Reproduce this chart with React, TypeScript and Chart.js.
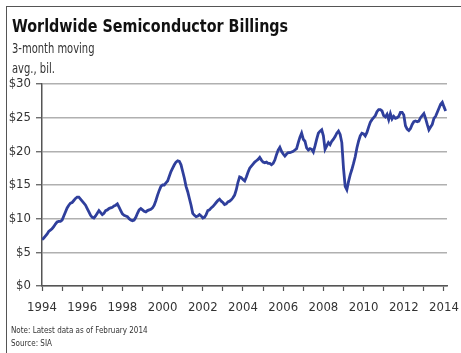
import React, { useEffect, useRef } from "react";
import { Chart, registerables } from "chart.js";

Chart.register(...registerables);

const TITLE = "Worldwide Semiconductor Billings";
const SUBTITLE_1 = "3-month moving";
const SUBTITLE_2 = "avg., bil.";
const NOTE = "Note: Latest data as of February 2014";
const SOURCE = "Source: SIA";

const yearTicks = [1994, 1995, 1996, 1997, 1998, 1999, 2000, 2001, 2002, 2003, 2004, 2005, 2006, 2007, 2008, 2009, 2010, 2011, 2012, 2013, 2014];
const yTickValues = [0, 5, 10, 15, 20, 25, 30];

// Monthly 3-month moving average, $ billions, Jan..Dec
const y1994 = [6.9, 7.1, 7.4, 7.7, 8.1, 8.3, 8.5, 8.8, 9.2, 9.5, 9.6, 9.6];
const y1995 = [9.8, 10.4, 11.0, 11.6, 12.0, 12.3, 12.4, 12.7, 13.0, 13.2, 13.2, 12.9];
const y1996 = [12.6, 12.3, 12.0, 11.5, 11.0, 10.5, 10.2, 10.1, 10.4, 10.8, 11.2, 10.9];
const y1997 = [10.6, 10.8, 11.2, 11.3, 11.5, 11.6, 11.7, 11.9, 12.0, 12.2, 11.7, 11.2];
const y1998 = [10.7, 10.5, 10.4, 10.3, 10.0, 9.8, 9.7, 9.8, 10.2, 10.8, 11.3, 11.5];
const y1999 = [11.3, 11.1, 11.0, 11.2, 11.3, 11.4, 11.6, 12.0, 12.7, 13.5, 14.2, 14.8];
const y2000 = [15.0, 15.0, 15.3, 15.6, 16.3, 17.0, 17.5, 18.0, 18.4, 18.6, 18.5, 18.0];
const y2001 = [17.0, 16.0, 14.8, 14.0, 13.0, 12.0, 10.8, 10.5, 10.3, 10.4, 10.6, 10.4];
const y2002 = [10.1, 10.2, 10.6, 11.2, 11.3, 11.6, 11.8, 12.1, 12.4, 12.7, 12.9, 12.6];
const y2003 = [12.4, 12.1, 12.2, 12.5, 12.6, 12.8, 13.1, 13.5, 14.3, 15.4, 16.2, 16.1];
const y2004 = [15.8, 15.6, 16.2, 16.9, 17.5, 17.8, 18.1, 18.4, 18.6, 18.8, 19.1, 18.7];
const y2005 = [18.4, 18.3, 18.4, 18.2, 18.2, 18.0, 18.2, 18.7, 19.5, 20.2, 20.6, 20.0];
const y2006 = [19.6, 19.3, 19.6, 19.8, 19.8, 19.9, 20.0, 20.2, 20.4, 21.3, 22.1, 22.7];
const y2007 = [21.8, 21.5, 20.5, 20.2, 20.4, 20.3, 19.9, 20.8, 21.8, 22.7, 23.0, 23.2];
const y2008 = [22.3, 20.3, 20.8, 21.3, 21.0, 21.5, 21.8, 22.2, 22.7, 23.0, 22.5, 21.3];
const y2009 = [17.5, 14.8, 14.3, 15.5, 16.5, 17.3, 18.2, 19.2, 20.5, 21.5, 22.3, 22.7];
const y2010 = [22.6, 22.3, 22.8, 23.6, 24.3, 24.7, 25.0, 25.3, 25.9, 26.2, 26.2, 26.0];
const y2011 = [25.3, 25.1, 25.5, 24.7, 25.6, 24.8, 25.2, 24.9, 25.0, 25.2, 25.8, 25.8];
const y2012 = [25.4, 23.8, 23.3, 23.1, 23.4, 24.0, 24.4, 24.5, 24.4, 24.5, 25.0, 25.3];
const y2013 = [25.6, 24.9, 24.0, 23.2, 23.6, 24.0, 24.9, 25.2, 25.8, 26.4, 27.0, 27.3];
const y2014 = [26.6, 26.0];

const seriesByYear: [number, number[]][] = [
  [1994, y1994], [1995, y1995], [1996, y1996], [1997, y1997], [1998, y1998],
  [1999, y1999], [2000, y2000], [2001, y2001], [2002, y2002], [2003, y2003],
  [2004, y2004], [2005, y2005], [2006, y2006], [2007, y2007], [2008, y2008],
  [2009, y2009], [2010, y2010], [2011, y2011], [2012, y2012], [2013, y2013],
  [2014, y2014],
];

const FONT = "'Liberation Sans Narrow', 'DejaVu Sans Condensed', 'Arial Narrow', sans-serif";

export default function App() {
  const ref = useRef<HTMLCanvasElement>(null);

  useEffect(() => {
    if (!ref.current) return;
    const points: { x: number; y: number }[] = [];
    seriesByYear.forEach(([yr, vals]) => {
      vals.forEach((v, m) => points.push({ x: yr + m / 12, y: v }));
    });

    const chart = new Chart(ref.current, {
      type: "line",
      data: {
        datasets: [
          {
            data: points,
            borderColor: "#2f3f9c",
            borderWidth: 2.8,
            pointRadius: 0,
            fill: false,
            tension: 0,
          },
        ],
      },
      options: {
        animation: false,
        responsive: false,
        maintainAspectRatio: false,
        layout: { padding: { left: 0, right: 14, top: 84, bottom: 0 } },
        plugins: { legend: { display: false }, title: { display: false }, tooltip: { enabled: false } },
        scales: {
          x: {
            type: "linear",
            min: 1994,
            max: 2014.15,
            afterBuildTicks: (scale: any) => {
              scale.ticks = yearTicks.map((v) => ({ value: v }));
            },
            afterFit: (scale: any) => {
              scale.height = 67;
              scale.paddingLeft = 0;
              scale.paddingRight = 0;
            },
            ticks: {
              autoSkip: false,
              maxRotation: 0,
              padding: 9,
              color: "#333",
              font: { family: FONT, size: 13 },
              callback: (v: any) => (Number(v) % 2 === 0 ? String(v) : ""),
            },
            grid: {
              drawOnChartArea: false,
              drawTicks: true,
              tickLength: 5,
              tickColor: "#555",
              tickWidth: 1.2,
            },
            border: { color: "#555", width: 1.5 },
          },
          y: {
            min: 0,
            max: 30,
            afterBuildTicks: (scale: any) => {
              scale.ticks = yTickValues.map((v) => ({ value: v }));
            },
            afterFit: (scale: any) => {
              scale.width = 42;
              scale.paddingTop = 0;
              scale.paddingBottom = 0;
            },
            ticks: {
              padding: 5,
              color: "#333",
              font: { family: FONT, size: 13 },
              callback: (v: any) => "$" + v,
            },
            grid: {
              color: "#b0b0b0",
              lineWidth: 1.5,
              drawTicks: true,
              tickLength: 6,
              tickColor: "#555",
              tickWidth: 1.2,
            },
            border: { color: "#555", width: 1.5 },
          },
        },
      },
    });
    return () => chart.destroy();
  }, []);

  const textBase: React.CSSProperties = {
    position: "absolute",
    fontFamily: FONT,
    whiteSpace: "nowrap",
    margin: 0,
    transformOrigin: "left top",
  };

  return (
    <div style={{ position: "absolute", left: 0, top: 0, width: 461, height: 353, background: "#fff", overflow: "hidden" }}>
      <div style={{ position: "absolute", left: 6, top: 6, width: 455, height: 347, borderTop: "1.5px solid #555", borderLeft: "1.5px solid #555", boxSizing: "border-box" }} />
      <canvas ref={ref} width={461} height={353} style={{ position: "absolute", left: 0, top: 0, width: 461, height: 353 }} />
      <div style={{ ...textBase, left: 12, top: 17, fontSize: 18, lineHeight: "18px", fontWeight: "bold", color: "#111", transform: "scaleX(0.885)" }}>{TITLE}</div>
      <div style={{ ...textBase, left: 12, top: 41, fontSize: 13.5, lineHeight: "14px", color: "#333", transform: "scaleX(0.82)" }}>{SUBTITLE_1}</div>
      <div style={{ ...textBase, left: 12, top: 61, fontSize: 13.5, lineHeight: "14px", color: "#333", transform: "scaleX(0.82)" }}>{SUBTITLE_2}</div>
      <div style={{ ...textBase, left: 11, top: 325, fontSize: 9.5, lineHeight: "10px", color: "#333", transform: "scaleX(0.84)" }}>{NOTE}</div>
      <div style={{ ...textBase, left: 11, top: 338, fontSize: 9.5, lineHeight: "10px", color: "#333", transform: "scaleX(0.84)" }}>{SOURCE}</div>
    </div>
  );
}
